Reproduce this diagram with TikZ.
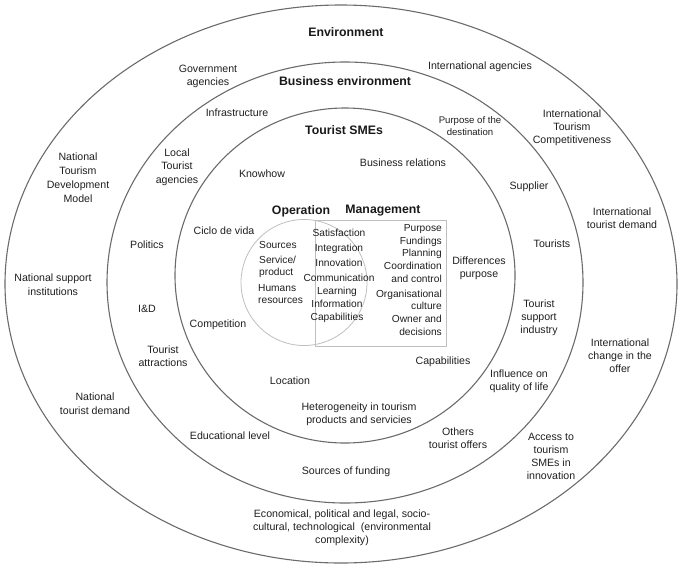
\documentclass[tikz,border=0pt]{standalone}
\usepackage{fontspec}
\setmainfont{Liberation Sans}
\begin{document}
\begin{tikzpicture}[x=1pt,y=-1pt]
\tikzset{
  ring/.style={draw=black!58, line width=1.1pt},
  faint/.style={draw=black!25, line width=0.8pt},
  lbl/.style={font=\fontsize{10.6}{13}\selectfont, align=center, inner sep=0pt, text=black!88},
  ttl/.style={font=\fontsize{12.3}{14}\selectfont\bfseries, inner sep=0pt, text=black!90},
  smalllbl/.style={font=\fontsize{9.6}{12}\selectfont, align=center, inner sep=0pt, text=black!88},
  core/.style={font=\fontsize{10.2}{13}\selectfont, inner sep=0pt, text=black!88},
}
\useasboundingbox (0,0) rectangle (685,571);
% rings
\draw[ring] (341,284) ellipse [x radius=336pt, y radius=279pt];
\draw[ring] (345,282.5) ellipse [x radius=238pt, y radius=220.5pt];
\draw[ring] (345,275.5) ellipse [x radius=170pt, y radius=167.5pt];
% core shapes
\draw[faint] (304,282.5) circle [radius=63pt];
\draw[faint] (315,220) rectangle (446,346);
% titles
\node[ttl] (env) at (346,32) {Environment};
\node[ttl] (benv) at (345,81) {Business environment};
\node[ttl] (sme) at (344,130) {Tourist SMEs};
\node[ttl] (oper) at (301,211) {Operation};
\node[ttl] (mgmt) at (383,211) {Management};
% environment ring
\node[lbl] (gov) at (208,76) {Government\\agencies};
\node[lbl] (intag) at (480,67) {International agencies};
\node[lbl] (itc) at (572,128) {International\\Tourism\\Competitiveness};
\node[lbl,font=\fontsize{10.6}{14}\selectfont] (ntdm) at (78,178) {National\\Tourism\\Development\\Model};
\node[lbl] (itd) at (622,218) {International\\tourist demand};
\node[lbl,font=\fontsize{10.6}{14}\selectfont] (nsi) at (53,285) {National support\\institutions};
\node[lbl] (ico) at (620,356) {International\\change in the\\offer};
\node[lbl,font=\fontsize{10.6}{14}\selectfont] (ntd) at (95,404) {National\\tourist demand};
\node[lbl] (acc) at (551,456) {Access to\\tourism\\SMEs in\\innovation};
\node[lbl] (eco) at (342,528) {Economical, political and legal, socio-\\cultural, technological\ \ (environmental\\complexity)};
% business environment ring
\node[lbl] (infra) at (237,113) {Infrastructure};
\node[smalllbl] (pod) at (470,126) {Purpose of the\\destination};
\node[lbl,font=\fontsize{10.6}{13.5}\selectfont] (lta) at (177,167) {Local\\Tourist\\agencies};
\node[lbl] (sup) at (529,187) {Supplier};
\node[lbl] (tourists) at (552,244) {Tourists};
\node[lbl] (pol) at (147,245) {Politics};
\node[lbl] (ind) at (147,309) {I\&D};
\node[lbl] (tsi) at (539,318) {Tourist\\support\\industry};
\node[lbl] (tat) at (163,356) {Tourist\\attractions};
\node[lbl] (iql) at (519,381) {Influence on\\quality of life};
\node[lbl] (edu) at (230,436) {Educational level};
\node[lbl] (oto) at (458,438) {Others\\tourist offers};
\node[lbl] (sof) at (346,472) {Sources of funding};
% tourist SMEs ring
\node[lbl] (brel) at (403,163) {Business relations};
\node[lbl] (know) at (262,174) {Knowhow};
\node[lbl] (cdv) at (224,231) {Ciclo de vida};
\node[lbl] (dp) at (479,268) {Differences\\purpose};
\node[lbl] (comp) at (218,325) {Competition};
\node[lbl] (capo) at (443,362) {Capabilities};
\node[lbl] (loc) at (290,381) {Location};
\node[lbl] (het) at (359,414) {Heterogeneity in tourism\\products and servicies};
% core: operation
\node[core,anchor=west] (src) at (259,245) {Sources};
\node[core,align=left,anchor=west,font=\fontsize{10.2}{12}\selectfont] (serv) at (259,267) {Service/\\product};
\node[core,align=left,anchor=west,font=\fontsize{10.2}{12}\selectfont] (hum) at (258,294) {Humans\\resources};
% core: shared
\node[core,align=center,font=\fontsize{10.2}{15}\selectfont] (sat) at (339,255.5) {Satisfaction\\Integration\\Innovation\\Communication};
\node[core,align=center,font=\fontsize{10.2}{13}\selectfont] (learn) at (337,305) {Learning\\Information\\Capabilities};
% core: management
\node[core,align=right,anchor=east,font=\fontsize{10.2}{12.7}\selectfont] (purp) at (442,253.5) {Purpose\\Fundings\\Planning\\Coordination\\and control};
\node[core,align=right,anchor=east,font=\fontsize{10.2}{12.5}\selectfont] (org) at (442,300) {Organisational\\culture};
\node[core,align=right,anchor=east,font=\fontsize{10.2}{12.7}\selectfont] (own) at (442,325.5) {Owner and\\decisions};
\end{tikzpicture}
\end{document}
